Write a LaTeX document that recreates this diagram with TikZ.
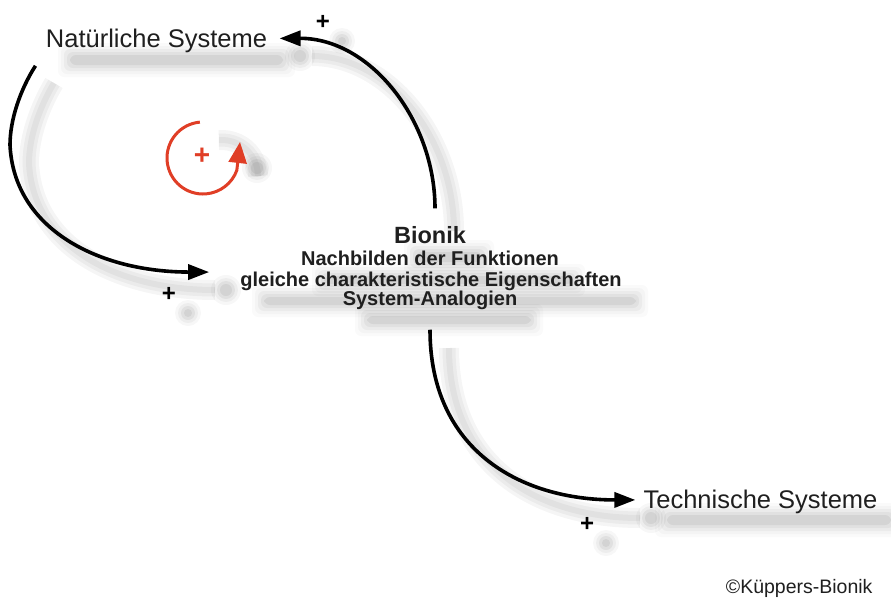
\documentclass[tikz,border=0pt]{standalone}
\usepackage{fontspec}
\setmainfont{Liberation Sans}
\usetikzlibrary{arrows.meta}
\definecolor{loopred}{RGB}{224,62,38}
\newcommand\natfont{\fontsize{25.5}{30}\selectfont}
\newcommand\biofont{\fontsize{23.5}{26}\selectfont\bfseries}
\newcommand\subfont{\fontsize{20}{22}\selectfont\bfseries}
\newcommand\copyfont{\fontsize{19.5}{22}\selectfont}
\newcommand\plusfont{\fontsize{24}{26}\selectfont\bfseries}
% blurred shadow band: x1 y1 x2 y2 (image pixels, y downwards)
\newcommand\sband[4]{%
  \foreach \e/\o in {0/0.05,3/0.04,6/0.035,9/0.025,12/0.02}{%
    \fill[black, opacity=\o, rounded corners=6pt]
      (#1-\e,-#2+\e) rectangle (#3+\e,-#4-\e);}}
\newcommand\sblob[3]{% x y r
  \foreach \e/\o in {0/0.06,3/0.05,6/0.04,9/0.03}{%
    \fill[black, opacity=\o] (#1,-#2) circle[radius=#3+\e];}}
\tikzset{
  x=1pt,y=1pt,
  lbl/.style={anchor=base, inner sep=3.3pt, text=black!88},
  conn/.style={line width=3.6pt, -{Triangle[length=21pt,width=15pt]}},
  shline/.style={draw=black, line width=#1, opacity=0.04},
  pluslbl/.style={inner sep=0pt, text=black},
}
\begin{document}
\begin{tikzpicture}
\useasboundingbox (0,0) rectangle (891,-600);
\fill[white] (0,0) rectangle (891,-600);

% ---------- shadows (blurred, offset down-right) ----------
\sband{70}{55}{283}{65}
\sband{667}{515}{891}{525}
\sband{416}{252}{482}{262}
\sband{324}{276}{573}{284}
\sband{264}{297}{636}{305}
\sband{367}{316}{531}{324}
\sblob{342}{41}{4}
\sblob{188}{313}{4}
\sblob{606}{543}{4}
\sblob{300}{56}{6}
\sblob{226}{290}{6}
\sblob{651}{518}{6}
\sblob{257}{168}{6}
\foreach \w in {20,13,6}{
  \draw[shline=\w pt] (54,-83) .. controls (39,-108) and (29,-138) .. (29,-163)
        .. controls (33,-248) and (119,-290) .. (215,-290);
  \draw[shline=\w pt] (454,-231) .. controls (454,-138) and (389,-56) .. (312,-56);
  \draw[shline=\w pt] (449,-348) .. controls (449,-468) and (539,-518) .. (640,-518);
  \draw[shline=\w pt] ([shift={(95:36)}]222,-176) arc[start angle=95, end angle=0, radius=36];
}

% ---------- main nodes ----------
\node[lbl, font=\natfont] (nat) at (156.5,-47) {Natürliche Systeme};
\node[lbl, font=\natfont] (tech) at (760.5,-508) {Technische Systeme};
\node[lbl, font=\biofont] (bio) at (430,-243) {Bionik};
\node[lbl, font=\subfont] (bio1) at (430,-265) {Nachbilden der Funktionen};
\node[lbl, font=\subfont] (bio2) at (431,-286) {gleiche charakteristische Eigenschaften};
\node[lbl, font=\subfont] (bio3) at (430,-305) {System-Analogien};
\node[lbl, font=\copyfont, anchor=base east] (copy) at (876,-593) {©Küppers-Bionik};

% ---------- connectors ----------
\draw[conn] ([shift={(-7,-10)}]nat.south west)
   .. controls (20,-90) and (10,-120) .. (10,-145)
   .. controls (14,-230) and (100,-272) .. ([shift={(-27.7,8.8)}]bio2.west);
\draw[conn] ([shift={(5,14)}]bio.north)
   .. controls (435,-120) and (370,-38) .. ([shift={(9,2)}]nat.east);
\draw[conn] ([shift={(0,-17)}]bio3.south)
   .. controls (430,-450) and (520,-500) .. ([shift={(-4.7,1.5)}]tech.west);

% ---------- plus signs ----------
\node[pluslbl, font=\plusfont] (p1) at (323,-22) {+};
\node[pluslbl, font=\plusfont] (p2) at (169,-294) {+};
\node[pluslbl, font=\plusfont] (p3) at (587,-524) {+};

% ---------- red reinforcing loop ----------
\node[inner sep=0pt, text=loopred, font=\fontsize{28}{30}\selectfont\bfseries] (rplus) at (202,-156) {+};
\coordinate (loopstart) at ([shift={(95:36)}]203,-158);
\coordinate (looptip) at (240,-142);
\draw[draw=loopred, line width=3pt, -{Triangle[length=21pt,width=18pt]}]
   (loopstart) arc[start angle=95, end angle=340, radius=36] -- (looptip);
\end{tikzpicture}
\end{document}
